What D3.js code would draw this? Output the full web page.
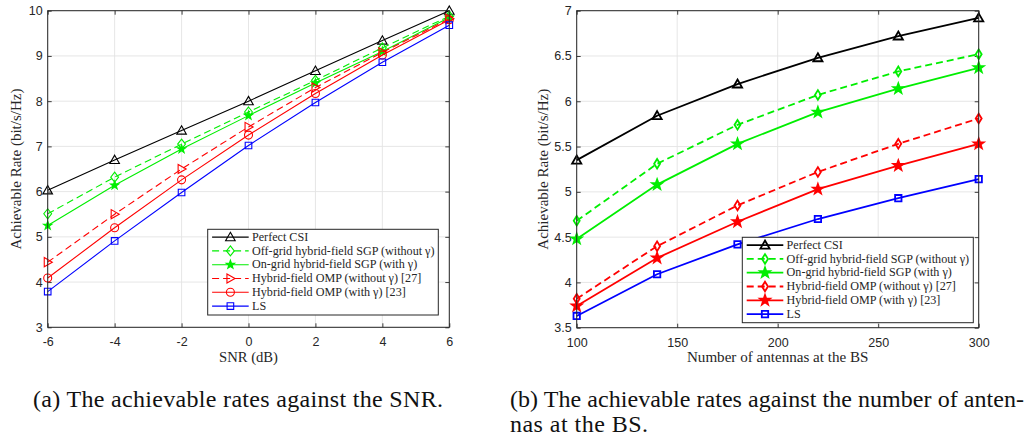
<!DOCTYPE html>
<meta charset="utf-8">
<script src="https://d3js.org/d3.v7.min.js"></script>
<style>
  body { margin: 0; background: #fff; }
  text.serif { font-family: "Liberation Serif", "Times New Roman", Times, serif; }
  text.sans { font-family: "Liberation Sans", Arial, Helvetica, sans-serif; }
</style>
<div id="fig"></div>
<script>

// ---- data ----
var seriesNames = ["Perfect CSI",
                   "Off-grid hybrid-field SGP (without \u03b3)",
                   "On-grid hybrid-field SGP (with \u03b3)",
                   "Hybrid-field OMP (without \u03b3) [27]",
                   "Hybrid-field OMP (with \u03b3) [23]",
                   "LS"];

// (a) rate vs SNR
var snrDb         = [-6, -4, -2, 0, 2, 4, 6];
var snrPerfect    = [6.03, 6.70, 7.35, 8.00, 8.67, 9.34, 10.00];
var snrOffGridSgp = [5.51, 6.32, 7.05, 7.76, 8.46, 9.18, 9.88];
var snrOnGridSgp  = [5.25, 6.14, 6.94, 7.68, 8.40, 9.10, 9.85];
var snrOmpNoGamma = [4.44, 5.50, 6.50, 7.43, 8.30, 9.08, 9.82];
var snrOmpGamma   = [4.09, 5.20, 6.26, 7.25, 8.17, 9.02, 9.80];
var snrLs         = [3.79, 4.91, 5.98, 7.02, 7.97, 8.86, 9.68];
var snrXTicks  = ["-6", "-4", "-2", "0", "2", "4", "6"];
var snrYTicks  = ["3", "4", "5", "6", "7", "8", "9", "10"];

// (b) rate vs number of BS antennas
var antennas      = [100, 140, 180, 220, 260, 300];
var antPerfect    = [5.35, 5.84, 6.19, 6.48, 6.72, 6.92];
var antOffGridSgp = [4.68, 5.31, 5.74, 6.07, 6.33, 6.52];
var antOnGridSgp  = [4.48, 5.08, 5.53, 5.88, 6.14, 6.37];
var antOmpNoGamma = [3.82, 4.40, 4.85, 5.22, 5.53, 5.81];
var antOmpGamma   = [3.74, 4.27, 4.67, 5.03, 5.29, 5.53];
var antLs         = [3.63, 4.09, 4.42, 4.70, 4.93, 5.14];
var antXTicks  = ["100", "150", "200", "250", "300"];
var antYTicks  = ["3.5", "4", "4.5", "5", "5.5", "6", "6.5", "7"];

var captionA  = "(a) The achievable rates against the SNR.";
var captionB1 = "(b) The achievable rates against the number of anten-";
var captionB2 = "nas at the BS.";

// ---- styles ----
var colors = ["#000000", "#00ee00", "#00ee00", "#ff0000", "#ff0000", "#0000ff"];
var dashes = [null, "7,4", null, "7,4", null, null];

var W = 1029, H = 438;
var svg = d3.select("#fig").append("svg")
    .attr("width", W).attr("height", H);

// marker outlines centred on 0,0
function markerPath(type, s) {
  if (type == "triUp")
    return "M0," + (-s) + "L" + (s) + "," + (s * 0.75) + "L" + (-s) + "," + (s * 0.75) + "Z";
  if (type == "triRight")
    return "M" + s + ",0L" + (-s * 0.75) + "," + (-s) + "L" + (-s * 0.75) + "," + s + "Z";
  if (type == "diamond")
    return "M0," + (-s) + "L" + (s * 0.78) + ",0L0," + s + "L" + (-s * 0.78) + ",0Z";
  if (type == "diamondNarrow")
    return "M0," + (-s) + "L" + (s * 0.62) + ",0L0," + s + "L" + (-s * 0.62) + ",0Z";
  if (type == "square")
    return "M" + (-s) + "," + (-s) + "h" + (2 * s) + "v" + (2 * s) + "h" + (-2 * s) + "Z";
  if (type == "circle")
    return "M" + s + ",0A" + s + "," + s + " 0 1,1 " + (-s) + ",0A" + s + "," + s + " 0 1,1 " + s + ",0Z";
  if (type == "star") {
    var p = [];
    for (var i = 0; i < 10; i++) {
      var r = i % 2 == 0 ? s : s * 0.4;
      var a = -Math.PI / 2 + i * Math.PI / 5;
      p.push([r * Math.cos(a), r * Math.sin(a)]);
    }
    return "M" + p.join("L") + "Z";
  }
}

function drawPanel(cfg) {
  var b = cfg.box;
  var x = d3.scaleLinear().domain(cfg.xDomain).range([b.x0, b.x1]);
  var y = d3.scaleLinear().domain(cfg.yDomain).range([b.y1, b.y0]);
  var xv = cfg.xTicks.map(Number), yv = cfg.yTicks.map(Number);
  var g = svg.append("g");

  // grid
  g.append("g").selectAll("line").data(xv).enter().append("line")
      .attr("x1", d => x(d)).attr("x2", d => x(d))
      .attr("y1", b.y0).attr("y2", b.y1)
      .attr("stroke", "#e3e3e3").attr("stroke-width", 0.9);
  g.append("g").selectAll("line").data(yv).enter().append("line")
      .attr("y1", d => y(d)).attr("y2", d => y(d))
      .attr("x1", b.x0).attr("x2", b.x1)
      .attr("stroke", "#e3e3e3").attr("stroke-width", 0.9);

  // axes, ticks pointing inwards on all four sides
  var fmtX = (d, i) => cfg.xTicks[i], fmtY = (d, i) => cfg.yTicks[i];
  var axes = [
    [d3.axisBottom(x).tickValues(xv).tickFormat(fmtX).tickPadding(10), "translate(0," + b.y1 + ")"],
    [d3.axisTop(x).tickValues(xv).tickFormat(""), "translate(0," + b.y0 + ")"],
    [d3.axisLeft(y).tickValues(yv).tickFormat(fmtY).tickPadding(5), "translate(" + b.x0 + ",0)"],
    [d3.axisRight(y).tickValues(yv).tickFormat(""), "translate(" + b.x1 + ",0)"]
  ];
  axes.forEach(function (a) {
    var ax = g.append("g").attr("transform", a[1])
        .call(a[0].tickSizeInner(-4).tickSizeOuter(0));
    ax.attr("font-family", null).attr("font-size", null);
    ax.select(".domain").remove();
    ax.selectAll("line").attr("stroke", "#262626").attr("stroke-width", 0.9);
    ax.selectAll("text")
        .attr("class", "sans")
        .attr("fill", "#262626")
        .style("font-size", "12.5px");
  });

  // series
  var line = d3.line().x((d, i) => x(cfg.xs[i])).y(d => y(d));
  cfg.series.forEach(function (vals, k) {
    g.append("path").datum(vals)
        .attr("d", line)
        .attr("fill", "none")
        .attr("stroke", colors[k])
        .attr("stroke-width", cfg.lineWidth)
        .attr("stroke-dasharray", dashes[k]);
    g.append("g").selectAll("path").data(vals).enter().append("path")
        .attr("transform", (d, i) => "translate(" + x(cfg.xs[i]) + "," + y(d) + ")")
        .attr("d", markerPath(cfg.markers[k], cfg.markerSize[k]))
        .attr("fill", cfg.markers[k] == "star" ? colors[k] : "none")
        .attr("stroke", colors[k])
        .attr("stroke-width", cfg.lineWidth);
  });

  // box
  g.append("rect")
      .attr("x", b.x0).attr("y", b.y0)
      .attr("width", b.x1 - b.x0).attr("height", b.y1 - b.y0)
      .attr("fill", "none").attr("stroke", "#262626").attr("stroke-width", 1);

  // axis titles
  g.append("text").attr("class", "serif")
      .attr("x", (b.x0 + b.x1) / 2).attr("y", 361.5)
      .attr("text-anchor", "middle")
      .attr("fill", "#262626")
      .style("font-size", "14px")
      .attr("textLength", cfg.xTitleLen).attr("lengthAdjust", "spacingAndGlyphs")
      .text(cfg.xTitle);
  g.append("text").attr("class", "serif")
      .attr("transform", "translate(" + cfg.yTitleX + "," + ((b.y0 + b.y1) / 2 + 0) + ") rotate(-90)")
      .attr("text-anchor", "middle")
      .attr("fill", "#262626")
      .style("font-size", "14px")
      .attr("textLength", 161).attr("lengthAdjust", "spacingAndGlyphs")
      .text("Achievable Rate (bit/s/Hz)");

  // legend
  var L = cfg.legend;
  var lg = g.append("g").attr("transform", "translate(" + L.x + "," + L.y + ")");
  lg.append("rect").attr("width", L.w).attr("height", L.h)
      .attr("fill", "#fff").attr("stroke", "#262626").attr("stroke-width", 1);
  var labels = [];
  seriesNames.forEach(function (name, k) {
    var ry = 7.8 + k * 13.8;
    lg.append("line")
        .attr("x1", 4.4).attr("x2", 41).attr("y1", ry).attr("y2", ry)
        .attr("stroke", colors[k]).attr("stroke-width", cfg.lineWidth)
        .attr("stroke-dasharray", dashes[k]);
    lg.append("path")
        .attr("transform", "translate(22.7," + ry + ")")
        .attr("d", markerPath(cfg.markers[k], cfg.markerSize[k]))
        .attr("fill", cfg.markers[k] == "star" ? colors[k] : "none")
        .attr("stroke", colors[k]).attr("stroke-width", cfg.lineWidth);
    labels.push(lg.append("text").attr("class", "serif")
        .attr("x", 44.3).attr("y", ry + 3.8)
        .attr("fill", "#262626")
        .style("font-size", "12px")
        .text(name));
  });
  // the widest entry should span the same width as in the figure
  var widest = d3.max(labels, t => t.node().getComputedTextLength());
  var fs = 12 * L.textWidth / widest;
  labels.forEach(function (t) {
    var w0 = t.node().getComputedTextLength();
    t.style("font-size", Math.min(fs, 13) + "px")
     .attr("textLength", w0 * L.textWidth / widest).attr("lengthAdjust", "spacingAndGlyphs");
  });
}

drawPanel({
  box: {x0: 47.7, x1: 449.3, y0: 10.7, y1: 327.3},
  xDomain: [-6, 6], yDomain: [3, 10],
  xs: snrDb,
  series: [snrPerfect, snrOffGridSgp, snrOnGridSgp, snrOmpNoGamma, snrOmpGamma, snrLs],
  xTicks: snrXTicks, yTicks: snrYTicks,
  markers: ["triUp", "diamond", "star", "triRight", "circle", "square"],
  markerSize: [4.8, 5, 4.4, 4.6, 4, 3.3],
  lineWidth: 1.1,
  xTitle: "SNR (dB)", xTitleLen: 59, yTitleX: 21,
  legend: {x: 207.7, y: 229.3, w: 230.6, h: 85.7, textWidth: 182.5}
});

drawPanel({
  box: {x0: 576.7, x1: 978.7, y0: 10.7, y1: 327.7},
  xDomain: [100, 300], yDomain: [3.5, 7],
  xs: antennas,
  series: [antPerfect, antOffGridSgp, antOnGridSgp, antOmpNoGamma, antOmpGamma, antLs],
  xTicks: antXTicks, yTicks: antYTicks,
  markers: ["triUp", "diamondNarrow", "star", "diamondNarrow", "star", "square"],
  markerSize: [4.6, 4.8, 5.2, 4.8, 5.2, 3.2],
  lineWidth: 1.8,
  xTitle: "Number of antennas at the BS", xTitleLen: 181.5, yTitleX: 548,
  legend: {x: 742.3, y: 237.3, w: 231, h: 85.4, textWidth: 182.5}
});

// sub-captions
var cap = svg.append("g").attr("fill", "#111");
cap.append("text").attr("class", "serif").style("font-size", "24px")
    .attr("x", 33).attr("y", 407)
    .attr("textLength", 410).attr("lengthAdjust", "spacing").text(captionA);
cap.append("text").attr("class", "serif").style("font-size", "24px")
    .attr("x", 510).attr("y", 407)
    .attr("textLength", 514).attr("lengthAdjust", "spacing").text(captionB1);
cap.append("text").attr("class", "serif").style("font-size", "24px")
    .attr("x", 510).attr("y", 432)
    .attr("textLength", 138).attr("lengthAdjust", "spacing").text(captionB2);

</script>
